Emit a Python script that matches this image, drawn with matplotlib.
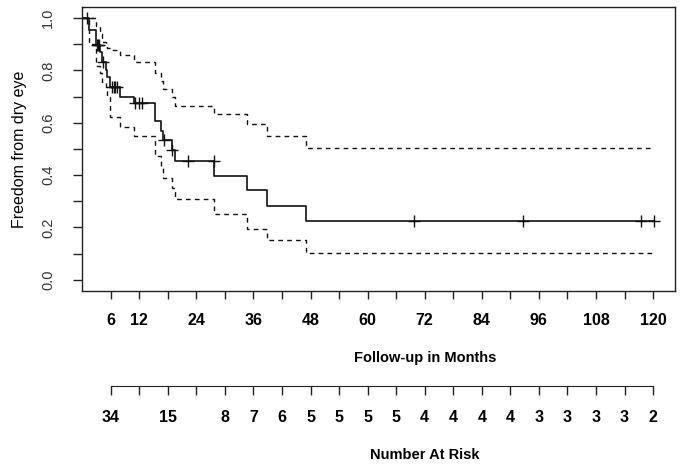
import matplotlib
matplotlib.use("Agg")
import matplotlib.pyplot as plt
import matplotlib.transforms as mtransforms
import numpy as np

plt.rcParams['font.family'] = ['Liberation Sans', 'DejaVu Sans']

# Kaplan-Meier estimate (step values after each event time)
event_months = [0, 1.45, 2.85, 3.76, 4.1, 5.0, 5.3, 5.8, 8.0, 10.9, 15.4, 16.5,
                17.1, 18.8, 19.5, 27.8, 34.7, 38.8, 47.1]
survival = [1.0, 0.955, 0.897, 0.869, 0.83, 0.80, 0.773, 0.735, 0.70, 0.676, 0.608,
            0.57, 0.534, 0.494, 0.455, 0.396, 0.343, 0.28, 0.226]
upper_ci = [1.0, 1.0, 0.97, 0.94, 0.91, 0.895, 0.885, 0.878, 0.86, 0.833, 0.789,
            0.76, 0.729, 0.70, 0.665, 0.634, 0.595, 0.551, 0.504]
lower_ci = [1.0, 0.90, 0.818, 0.79, 0.754, 0.729, 0.70, 0.62, 0.582, 0.551, 0.474,
            0.43, 0.389, 0.35, 0.309, 0.252, 0.193, 0.15, 0.103]
censor_months = [1.1, 3.1, 3.3, 3.6, 4.4, 6.2, 6.7, 7.0, 7.3, 11.1, 12.0, 12.5,
                 17.2, 18.9, 22.2, 27.7, 69.8, 92.6, 117.5, 120.2]

# axis ticks
tick_months = list(range(6, 121, 6))
labelled_months = [6, 12, 24, 36, 48, 60, 72, 84, 96, 108, 120]
y_ticks = [0.0, 0.2, 0.4, 0.6, 0.8, 1.0]
y_minor = [0.1, 0.3, 0.5, 0.7, 0.9]

# number at risk table
risk_months = [6, 18, 30, 36, 42, 48, 54, 60, 66, 72, 78, 84, 90, 96, 102, 108, 114, 120]
risk_counts = [34, 15, 8, 7, 6, 5, 5, 5, 5, 4, 4, 4, 4, 3, 3, 3, 3, 2]

W, H = 683, 467
fig = plt.figure(figsize=(W / 100, H / 100), dpi=100)

left, right, top, bottom = 82.1, 675, 7, 290.7
ax = fig.add_axes([left / W, 1 - bottom / H, (right - left) / W, (bottom - top) / H])

t_end = censor_months[-1]
tt = np.append(event_months, t_end)
ax.step(tt, np.append(survival, survival[-1]), where='post', color='#111111', lw=1.2)
for ci in (upper_ci, lower_ci):
    ax.step(tt, np.append(ci, ci[-1]), where='post', color='#111111', lw=1.0,
            dashes=(3.4, 3.0))

idx = np.searchsorted(event_months, censor_months, side='right') - 1
cens_s = np.array(survival)[idx]
ax.plot(censor_months, cens_s, ls='none', marker='+', ms=9, mew=1.0, color='#111111')

ax.set_xlim(0, 124.6)
ax.set_ylim(-0.042, 1.042)
ax.set_xticks(tick_months)
ax.set_xticklabels([str(m) if m in labelled_months else '' for m in tick_months],
                   fontsize=11.5, fontweight='bold')
ax.set_yticks(y_ticks)
ax.set_yticks(y_minor, minor=True)
ax.set_yticklabels(['%.1f' % v for v in y_ticks], rotation=90, va='center',
                   fontsize=10.5, color='#333333')
ax.tick_params(axis='x', length=6, width=1, pad=10, color='#222222')
ax.tick_params(axis='y', which='both', length=6.5, width=1, pad=13, color='#222222')
for s in ax.spines.values():
    s.set_linewidth(1.0)
    s.set_color('#222222')
ax.set_ylabel('Freedom from dry eye', fontsize=11.5, labelpad=10)

# number at risk axis
ay = 384.7
rax = fig.add_axes([left / W, 1 - (ay + 1) / H, (right - left) / W, 1 / H])
rax.set_xlim(ax.get_xlim())
rax.set_ylim(0, 1)
for side in ('left', 'right', 'top'):
    rax.spines[side].set_visible(False)
rax.spines['bottom'].set_bounds(tick_months[0], tick_months[-1])
rax.spines['bottom'].set_color('#222222')
rax.set_yticks([])
rax.set_xticks(tick_months)
rax.set_xticklabels([str(risk_counts[risk_months.index(m)]) if m in risk_months else ''
                     for m in tick_months], fontsize=11.5, fontweight='bold')
rax.tick_params(axis='x', length=6.5, width=1, pad=11, color='#222222')
rax.patch.set_visible(False)

trans = mtransforms.blended_transform_factory(ax.transData, fig.transFigure)
fig.text(72, 1 - 358 / H, 'Follow-up in Months', transform=trans, ha='center',
         va='center', fontsize=10.5, fontweight='bold')
fig.text(72, 1 - 455 / H, 'Number At Risk', transform=trans, ha='center',
         va='center', fontsize=10.5, fontweight='bold')

fig.savefig('out.png', dpi=100)
